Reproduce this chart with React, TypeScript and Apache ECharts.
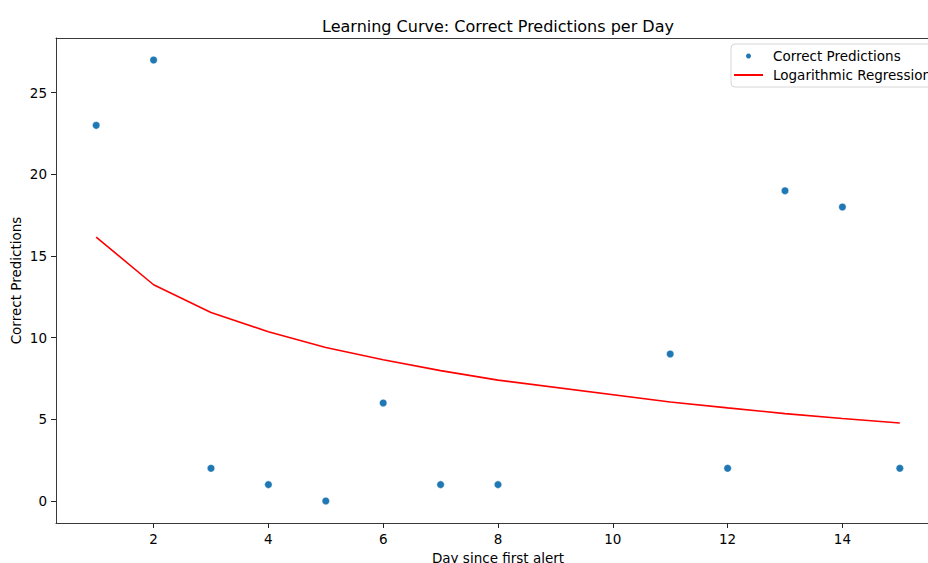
import React, { useEffect, useRef } from "react";
import * as echarts from "echarts";

const days = [1, 2, 3, 4, 5, 6, 7, 8, 11, 12, 13, 14, 15];
const correctPredictions = [23, 27, 2, 1, 0, 6, 1, 1, 9, 2, 19, 18, 2];
const regressionValues = [16.16, 13.24, 11.54, 10.36, 9.4, 8.65, 7.98, 7.4, 6.06, 5.7, 5.35, 5.05, 4.77];
const xTicks = [2, 4, 6, 8, 10, 12, 14];
const yTicks = [0, 5, 10, 15, 20, 25];

const FONT = "DejaVu Sans";

export default function App() {
  const ref = useRef<HTMLDivElement>(null);
  useEffect(() => {
    if (!ref.current) return;
    const chart = echarts.init(ref.current, null, { renderer: "svg" });
    const axisLine = { show: true, onZero: false, lineStyle: { color: "#222", width: 0.9 } };
    chart.setOption({
      animation: false,
      backgroundColor: "#fff",
      title: {
        text: "Learning Curve: Correct Predictions per Day",
        left: 493,
        top: 13,
        textAlign: "center",
        textStyle: { fontFamily: FONT, fontSize: 16, fontWeight: "normal", color: "#000" },
      },
      legend: {
        orient: "vertical",
        left: 731,
        top: 44,
        padding: [5, 20, 5, 2],
        itemWidth: 29,
        itemHeight: 7,
        itemGap: 5,
        borderColor: "#d6d6d6",
        borderWidth: 1,
        borderRadius: 4,
        backgroundColor: "rgba(255,255,255,0.8)",
        textStyle: { fontFamily: FONT, fontSize: 13.5, color: "#000", padding: [0, 0, 0, 5] },
        data: [
          { name: "Correct Predictions", icon: "circle", itemStyle: { opacity: 1 } },
          { name: "Logarithmic Regression", itemStyle: { opacity: 0 } },
        ],
      },
      grid: { left: 56, right: -12, top: 38, bottom: 40, containLabel: false, outerBoundsMode: "none" },
      xAxis: [
        {
          type: "value",
          min: 0.3,
          max: 15.7,
          name: "Day since first alert",
          nameLocation: "middle",
          nameGap: 25,
          nameTextStyle: { fontFamily: FONT, fontSize: 13.5, color: "#000" },
          axisLine,
          axisTick: { show: true, customValues: xTicks, length: 5, lineStyle: { color: "#222" } },
          axisLabel: { customValues: xTicks, margin: 9, fontFamily: FONT, fontSize: 13.5, color: "#000" },
          splitLine: { show: false },
        },
        {
          type: "value",
          position: "top",
          min: 0.3,
          max: 15.7,
          axisLine,
          axisTick: { show: false },
          axisLabel: { show: false },
          splitLine: { show: false },
        },
      ],
      yAxis: {
        type: "value",
        min: -1.35,
        max: 28.35,
        name: "Correct Predictions",
        nameLocation: "middle",
        nameRotate: 90,
        nameGap: 33,
        nameMoveOverlap: false,
        nameTextStyle: { fontFamily: FONT, fontSize: 13.5, color: "#000" },
        axisLine,
        axisTick: { show: true, customValues: yTicks, length: 5, lineStyle: { color: "#222" } },
        axisLabel: { customValues: yTicks, margin: 9, fontFamily: FONT, fontSize: 13.5, color: "#000" },
        splitLine: { show: false },
      },
      series: [
        {
          name: "Correct Predictions",
          type: "scatter",
          data: days.map((d, i) => [d, correctPredictions[i]]),
          symbolSize: 7.5,
          itemStyle: { color: "#1f77b4", borderColor: "#fff", borderWidth: 0.4, opacity: 1 },
          z: 3,
        },
        {
          name: "Logarithmic Regression",
          type: "line",
          data: days.map((d, i) => [d, regressionValues[i]]),
          symbol: "none",
          lineStyle: { color: "#ff0000", width: 1.6 },
          itemStyle: { color: "#ff0000" },
          z: 2,
        },
      ],
    });
    return () => chart.dispose();
  }, []);
  return <div ref={ref} style={{ width: 928, height: 563, position: "fixed", left: 0, top: 0 }} />;
}
